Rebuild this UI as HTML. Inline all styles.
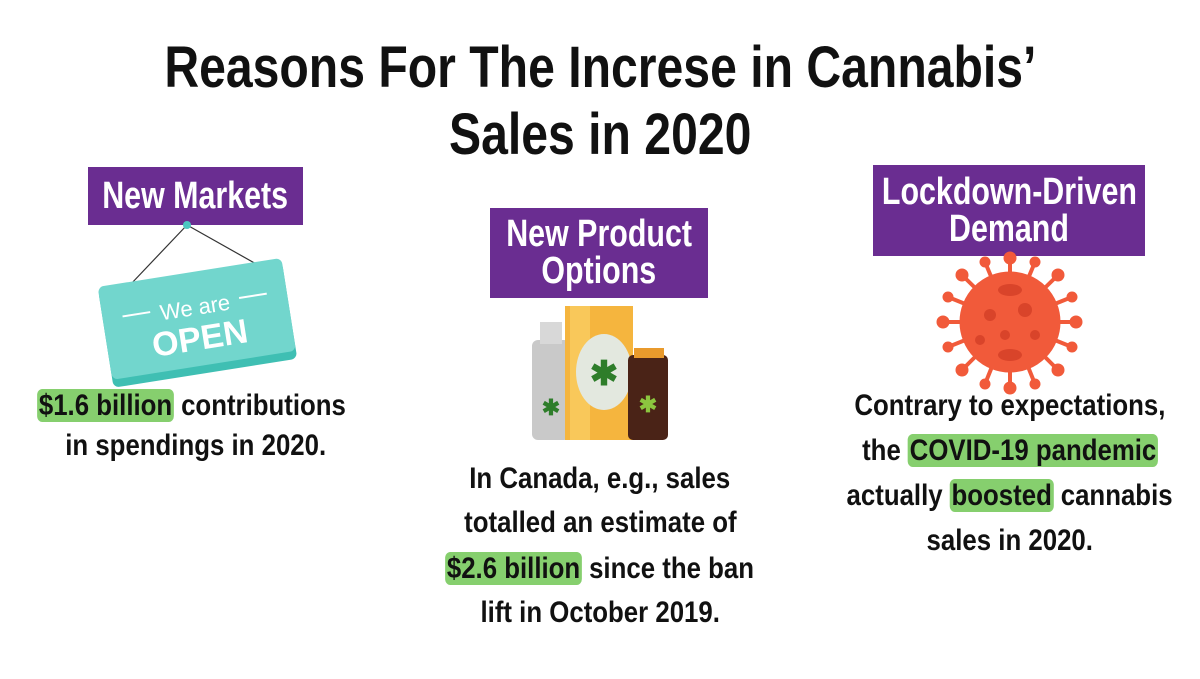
<!DOCTYPE html>
<html><head><meta charset="utf-8"><style>
body{margin:0;width:1200px;height:679px;background:#fff;position:relative;overflow:hidden;font-family:"Liberation Sans",sans-serif;font-weight:bold;color:#111}
.s{display:inline-block;white-space:nowrap;transform-origin:center}
.t{position:absolute;left:0;width:1200px;text-align:center;font-size:58px;line-height:62px}
.t .s{transform:scaleX(0.83)}
.box{position:absolute;background:#6a2d91;color:#fff;text-align:center;font-size:38px;line-height:37px;display:flex;align-items:center;justify-content:center;flex-direction:column}
.box .s{transform:scaleX(0.8)}
.p{position:absolute;text-align:center;font-size:30px;line-height:44px;white-space:nowrap}
.p .s{transform:scaleX(0.86)}
.h{background:#86cf6e;border-radius:6px;padding:0 2px}
</style></head><body>
<div class="t" style="top:37px"><span class="s">Reasons For The Increse in Cannabis’</span></div>
<div class="t" style="top:104px"><span class="s">Sales in 2020</span></div>

<div class="box" style="left:88px;top:167px;width:215px;height:58px"><span class="s">New Markets</span></div>
<div class="box" style="left:490px;top:208px;width:218px;height:90px"><span class="s">New Product</span><span class="s">Options</span></div>
<div class="box" style="left:873px;top:165px;width:272px;height:91px"><span class="s">Lockdown-Driven</span><span class="s">Demand</span></div>

<svg style="position:absolute;left:0;top:0" width="1200" height="679">
 <line x1="187" y1="225" x2="130" y2="285" stroke="#333" stroke-width="1.2"/>
 <line x1="187" y1="225" x2="258" y2="265" stroke="#333" stroke-width="1.2"/>
 <circle cx="187" cy="225" r="4" fill="#4cc7c0"/>
 <g transform="rotate(-9 196 320)">
  <rect x="104" y="276" width="186" height="98" rx="6" fill="#3fbfb3"/>
  <rect x="104" y="272" width="186" height="94" rx="6" fill="#72d6cd"/>
  <text x="197" y="315" text-anchor="middle" font-family="Liberation Sans" font-size="22" fill="#fff" font-weight="normal">We are</text>
  <line x1="124" y1="305" x2="152" y2="305" stroke="#fff" stroke-width="2"/>
  <line x1="242" y1="305" x2="270" y2="305" stroke="#fff" stroke-width="2"/>
  <text x="197" y="350" text-anchor="middle" font-family="Liberation Sans" font-size="34" font-weight="bold" fill="#fff">OPEN</text>
 </g>
 <rect x="532" y="340" width="38" height="100" rx="6" fill="#c9c9c9"/>
 <rect x="540" y="322" width="22" height="22" fill="#d8d8d8"/>
 <rect x="565" y="306" width="68" height="134" fill="#f5b53e"/>
 <rect x="570" y="306" width="20" height="134" fill="#f9c85a"/>
 <ellipse cx="604" cy="372" rx="28" ry="38" fill="#e3e8df"/>
 <rect x="628" y="355" width="40" height="85" rx="5" fill="#4a2317"/>
 <rect x="634" y="348" width="30" height="10" fill="#e99a2c"/>
 <text x="604" y="385" text-anchor="middle" font-size="34" fill="#2e7d2a">✱</text>
 <text x="551" y="415" text-anchor="middle" font-size="22" fill="#2e7d2a">✱</text>
 <text x="648" y="412" text-anchor="middle" font-size="22" fill="#8cc63f">✱</text>
 <g fill="#f15a3a" stroke="#f15a3a">
  <g stroke-width="4">
   <line x1="1010" y1="322" x2="1010" y2="258"/><line x1="1010" y1="322" x2="1010" y2="388"/>
   <line x1="1010" y1="322" x2="943" y2="322"/><line x1="1010" y1="322" x2="1076" y2="322"/>
   <line x1="1010" y1="322" x2="962" y2="275"/><line x1="1010" y1="322" x2="1058" y2="370"/>
   <line x1="1010" y1="322" x2="962" y2="370"/><line x1="1010" y1="322" x2="1058" y2="275"/>
   <line x1="1010" y1="322" x2="985" y2="262"/><line x1="1010" y1="322" x2="1035" y2="384"/>
   <line x1="1010" y1="322" x2="948" y2="297"/><line x1="1010" y1="322" x2="1072" y2="347"/>
   <line x1="1010" y1="322" x2="948" y2="347"/><line x1="1010" y1="322" x2="1072" y2="297"/>
   <line x1="1010" y1="322" x2="985" y2="384"/><line x1="1010" y1="322" x2="1035" y2="262"/>
  </g>
  <circle cx="1010" cy="322" r="50"/>
  <circle cx="1010" cy="258" r="6"/><circle cx="1010" cy="388" r="6"/><circle cx="943" cy="322" r="6"/><circle cx="1076" cy="322" r="6"/>
  <circle cx="962" cy="275" r="6"/><circle cx="1058" cy="370" r="6"/><circle cx="962" cy="370" r="6"/><circle cx="1058" cy="275" r="6"/>
  <circle cx="985" cy="262" r="5"/><circle cx="1035" cy="384" r="5"/><circle cx="948" cy="297" r="5"/><circle cx="1072" cy="347" r="5"/>
  <circle cx="948" cy="347" r="5"/><circle cx="1072" cy="297" r="5"/><circle cx="985" cy="384" r="5"/><circle cx="1035" cy="262" r="5"/>
 </g>
 <g fill="#d9442a">
  <ellipse cx="1010" cy="290" rx="12" ry="6"/><ellipse cx="1010" cy="355" rx="12" ry="6"/>
  <circle cx="990" cy="315" r="6"/><circle cx="1025" cy="310" r="7"/><circle cx="1005" cy="335" r="5"/><circle cx="1035" cy="335" r="5"/><circle cx="980" cy="340" r="5"/>
 </g>
</svg>

<div class="p" style="left:0;top:384px;width:384px"><span class="s"><span class="h">$1.6 billion</span> contributions</span></div>
<div class="p" style="left:0;top:424px;width:392px"><span class="s">in spendings in 2020.</span></div>

<div class="p" style="left:400px;top:457px;width:400px"><span class="s">In Canada, e.g., sales</span></div>
<div class="p" style="left:400px;top:501px;width:400px"><span class="s">totalled an estimate of</span></div>
<div class="p" style="left:400px;top:547px;width:400px"><span class="s"><span class="h">$2.6 billion</span> since the ban</span></div>
<div class="p" style="left:400px;top:591px;width:400px"><span class="s">lift in October 2019.</span></div>

<div class="p" style="left:810px;top:384px;width:400px"><span class="s">Contrary to expectations,</span></div>
<div class="p" style="left:810px;top:429px;width:400px"><span class="s">the <span class="h">COVID-19 pandemic</span></span></div>
<div class="p" style="left:810px;top:474px;width:400px"><span class="s">actually <span class="h">boosted</span> cannabis</span></div>
<div class="p" style="left:810px;top:519px;width:400px"><span class="s">sales in 2020.</span></div>
</body></html>
